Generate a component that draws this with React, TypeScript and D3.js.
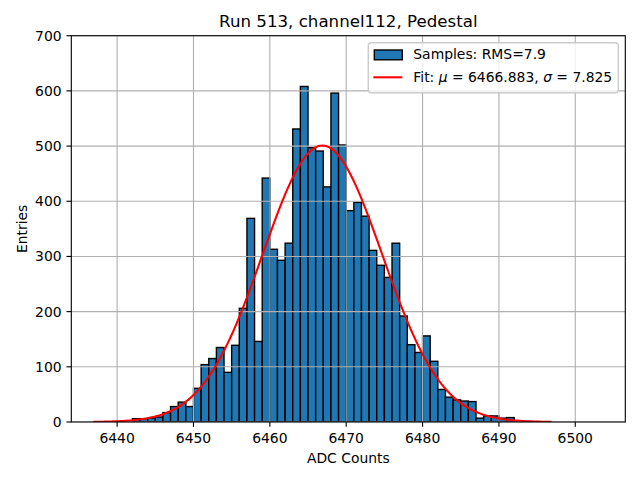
import React from 'react'
import * as d3 from 'd3'

// histogram: unit-wide bins starting at first_bin
const first_bin = 6442
const counts = [
    6, 6, 7, 9, 17, 28, 36, 28, 61, 104, 115, 135, 90, 139,
    206, 369, 146, 442, 313, 293, 324, 531, 608, 497, 491, 426, 596, 502, 383,
    398, 373, 311, 284, 262, 324, 192, 140, 126, 156, 110, 59, 45, 40, 38, 37, 7, 11, 11, 7, 8
]

// gaussian fit
const fit_mu = 6466.883
const fit_sigma = 7.825
const fit_amp = 501
const fit_half_range = 30

const x_ticks = [6440, 6450, 6460, 6470, 6480, 6490, 6500]
const y_ticks = [0, 100, 200, 300, 400, 500, 600, 700]
const x_limits = [6434, 6506.55]
const y_limits = [0, 700]

const W = 640
const H = 480
const margin = { left: 71.3, right: 625.3, top: 35.7, bottom: 422 }
const font = 'DejaVu Sans, sans-serif'
const tick_len = 4.86
const grid_color = '#b0b0b0'
const pt = 100 / 72

const App = () => {
    const x = d3.scaleLinear().domain(x_limits).range([margin.left, margin.right])
    const y = d3.scaleLinear().domain(y_limits).range([margin.bottom, margin.top])

    const bars = counts.map((c, i) => ({ x0: first_bin + i, x1: first_bin + i + 1, c }))

    const curve_x = d3.range(0, 201).map(i => fit_mu - fit_half_range + (i * 2 * fit_half_range) / 200)
    const line = d3
        .line<number>()
        .x(d => x(d))
        .y(d => y(fit_amp * Math.exp(-((d - fit_mu) ** 2) / (2 * fit_sigma ** 2))))

    return (
        <svg width={W} height={H} style={{ position: 'absolute', left: 0, top: 0, background: '#fff' }} fontFamily={font}>
            <defs>
                <clipPath id="plot">
                    <rect x={margin.left} y={margin.top} width={margin.right - margin.left} height={margin.bottom - margin.top} />
                </clipPath>
            </defs>
            <g clipPath="url(#plot)">
                {bars.map((b, i) => (
                    <rect
                        key={i}
                        x={x(b.x0)}
                        y={y(b.c)}
                        width={x(b.x1) - x(b.x0)}
                        height={y(0) - y(b.c)}
                        fill="#1f77b4"
                        stroke="#000"
                        strokeWidth={1 * pt}
                    />
                ))}
                {x_ticks.map(t => (
                    <line key={'gx' + t} x1={x(t)} x2={x(t)} y1={margin.top} y2={margin.bottom} stroke={grid_color} strokeWidth={0.8 * pt} />
                ))}
                {y_ticks.map(t => (
                    <line key={'gy' + t} x1={margin.left} x2={margin.right} y1={y(t)} y2={y(t)} stroke={grid_color} strokeWidth={0.8 * pt} />
                ))}
                <path d={line(curve_x)} fill="none" stroke="red" strokeWidth={1.5 * pt} strokeLinejoin="round" />
            </g>
            <rect
                x={margin.left}
                y={margin.top}
                width={margin.right - margin.left}
                height={margin.bottom - margin.top}
                fill="none"
                stroke="#000"
                strokeWidth={0.8 * pt}
            />
            {x_ticks.map(t => (
                <g key={'xt' + t}>
                    <line x1={x(t)} x2={x(t)} y1={margin.bottom} y2={margin.bottom + tick_len} stroke="#000" strokeWidth={0.8 * pt} />
                    <text x={x(t)} y={margin.bottom + 20.5} textAnchor="middle" fontSize={13.9}>
                        {t}
                    </text>
                </g>
            ))}
            {y_ticks.map(t => (
                <g key={'yt' + t}>
                    <line x1={margin.left - tick_len} x2={margin.left} y1={y(t)} y2={y(t)} stroke="#000" strokeWidth={0.8 * pt} />
                    <text x={margin.left - 9.7} y={y(t)} dy="0.36em" textAnchor="end" fontSize={13.9}>
                        {t}
                    </text>
                </g>
            ))}
            <text x={(margin.left + margin.right) / 2} y={27.4} textAnchor="middle" fontSize={16.67}>
                Run 513, channel112, Pedestal
            </text>
            <text x={(margin.left + margin.right) / 2} y={463} textAnchor="middle" fontSize={13.9}>
                ADC Counts
            </text>
            <text
                transform={`translate(26.5,${(margin.top + margin.bottom) / 2}) rotate(-90)`}
                textAnchor="middle"
                fontSize={13.9}
            >
                Entries
            </text>
            <g>
                <rect x={368.3} y={42.7} width={250} height={50} rx={3} fill="#fff" fillOpacity={0.8} stroke="#cccccc" strokeWidth={1 * pt} />
                <rect x={374.3} y={50} width={28} height={9.8} fill="#1f77b4" stroke="#000" strokeWidth={1 * pt} />
                <text x={413.3} y={59.3} fontSize={13.9}>
                    Samples: RMS=7.9
                </text>
                <line x1={373.3} x2={402.3} y1={77.3} y2={77.3} stroke="red" strokeWidth={1.5 * pt} />
                <text x={413.3} y={82.4} fontSize={13.9}>
                    Fit: <tspan fontStyle="italic">μ</tspan> = 6466.883, <tspan fontStyle="italic">σ</tspan> = 7.825
                </text>
            </g>
        </svg>
    )
}

export default App
